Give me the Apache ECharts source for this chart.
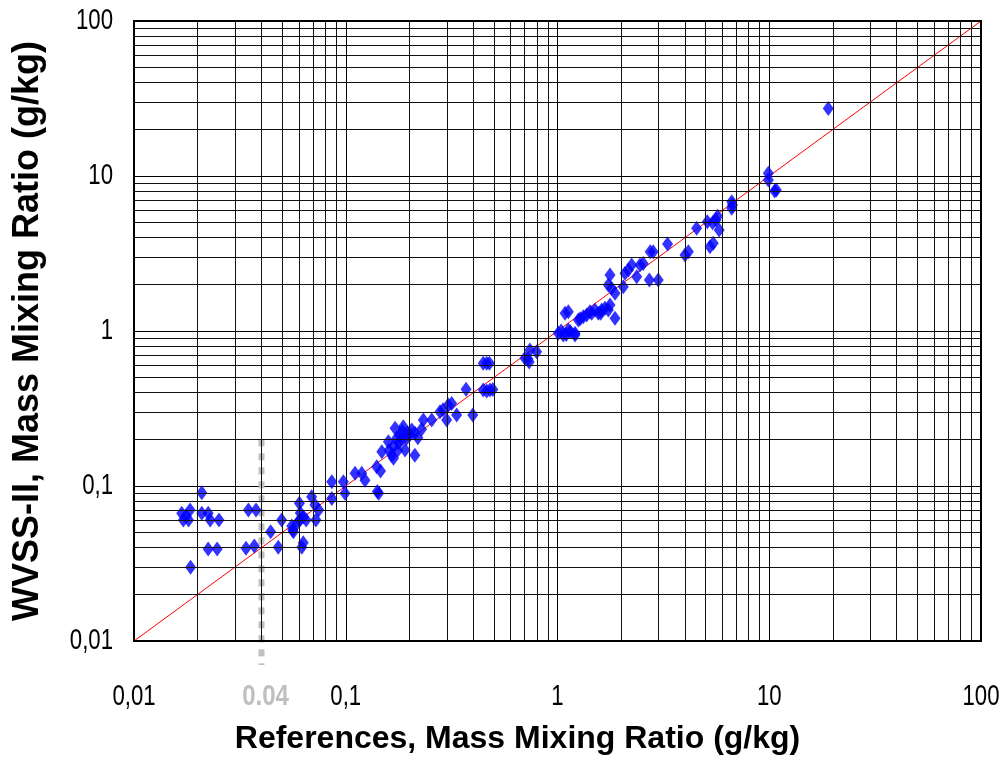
<!DOCTYPE html>
<html>
<head>
<meta charset="utf-8">
<script src="https://cdn.jsdelivr.net/npm/echarts@6/dist/echarts.min.js"></script>
<style>
  html, body { margin: 0; padding: 0; background: #fff; }
  #main { width: 1005px; height: 760px; }
</style>
</head>
<body>
<div id="main"></div>
<script>
// reference (x) and WVSS-II (y) mixing ratios, g/kg
const refValues = [
  0.0168, 0.0184, 0.0171, 0.0181, 0.0176, 0.0209, 0.0209, 0.0224, 0.0229, 0.0252,
  0.0224, 0.0247, 0.0185, 0.0347, 0.0377, 0.0338, 0.037,
  0.0442, 0.048, 0.0498, 0.0556, 0.0566, 0.0562, 0.0604, 0.061, 0.063, 0.0605,
  0.065, 0.059, 0.062, 0.063, 0.069, 0.0716, 0.0745, 0.0723, 0.0859, 0.0859,
  0.0974, 0.0992, 0.1106, 0.119, 0.1233, 0.140, 0.143, 0.146, 0.141,
  0.148, 0.159, 0.165, 0.168, 0.171, 0.174, 0.180, 0.187, 0.1905, 0.194,
  0.168, 0.178, 0.185, 0.195, 0.201, 0.205, 0.212, 0.212, 0.219, 0.228,
  0.160, 0.176, 0.183,
  0.2325, 0.2547, 0.2787, 0.288, 0.305, 0.3165, 0.2996, 0.334, 0.370, 0.398,
  0.446, 0.463, 0.477, 0.446, 0.463, 0.48, 0.495,
  0.702, 0.741, 0.735, 0.797, 0.725,
  1.009, 1.065, 1.125, 1.21, 1.21, 1.085, 1.125, 1.04, 1.15, 1.1,
  1.254, 1.324, 1.374, 1.423, 1.503, 1.559, 1.617, 1.675, 1.738, 1.77, 1.869,
  1.28, 1.45, 1.6,
  1.77, 1.738, 1.80, 1.869, 2.045, 2.084, 2.16, 2.24, 2.366, 2.453, 2.54,
  2.715, 2.99, 2.74, 2.83, 3.31, 4.0, 4.15, 4.54, 5.25, 5.44, 5.1, 5.6, 5.8,
  5.4, 5.7, 6.65, 6.65, 6.7, 9.9, 9.9, 10.8, 10.6, 19.0
]
const wvssValues = [
  0.0667, 0.070, 0.0604, 0.0604, 0.064, 0.0906, 0.0667, 0.0667, 0.0604, 0.0604,
  0.0392, 0.0392, 0.0299, 0.070, 0.070, 0.0396, 0.041,
  0.0507, 0.0402, 0.0604, 0.0552, 0.0507, 0.052, 0.0773, 0.067, 0.063, 0.060,
  0.0604, 0.0575, 0.0402, 0.043, 0.0853, 0.0754, 0.070, 0.0604, 0.1066, 0.0832,
  0.1066, 0.0897, 0.1207, 0.1207, 0.109, 0.133, 0.0897, 0.125, 0.092,
  0.1665, 0.193, 0.158, 0.151, 0.2357, 0.203, 0.2133, 0.2415, 0.1707, 0.203,
  0.180, 0.19, 0.225, 0.22, 0.215, 0.23, 0.158, 0.22, 0.205, 0.232,
  0.17, 0.17, 0.2,
  0.2666, 0.2666, 0.3016, 0.31, 0.333, 0.341, 0.2666, 0.287, 0.421, 0.287,
  0.619, 0.619, 0.619, 0.416, 0.41, 0.416, 0.42,
  0.667, 0.754, 0.63, 0.735, 0.66,
  0.966, 0.942, 1.015, 0.966, 0.942, 1.30, 1.33, 1.0, 0.99, 0.95,
  1.178, 1.237, 1.268, 1.33, 1.366, 1.30, 1.366, 1.40, 1.366, 1.47, 1.207,
  1.2, 1.3, 1.3,
  2.297, 1.98, 1.885, 1.75, 1.93, 2.356, 2.477, 2.667, 2.24, 2.667, 2.73,
  2.133, 2.133, 3.25, 3.25, 3.64, 3.09, 3.25, 4.60, 3.50, 3.68, 5.07, 5.20, 4.48,
  5.0, 5.5, 6.83, 6.19, 6.5, 10.4, 9.42, 8.12, 8.0, 27.3
]
const tickValues = [0.01, 0.1, 1, 10, 100]
const tickLabels = ['0,01', '0,1', '1', '10', '100']
const minorSteps = [2, 3, 4, 5, 6, 7, 8, 9]
const decades = [0.01, 0.1, 1, 10]
const limitX = 0.04

const minorValues = []
decades.forEach(d => minorSteps.forEach(m => minorValues.push(+(d * m).toPrecision(3))))

const font = 'Liberation Sans, Arial, sans-serif'
// no narrow font installed, so squeeze the tick labels
const narrowScale = 0.74

const chart = echarts.init(document.getElementById('main'))
chart.setOption({
    animation: false,
    grid: {
        left: 134,
        right: 24,
        top: 21,
        bottom: 119,
        show: true,
        borderColor: '#000',
        borderWidth: 2,
        z: 10
    },
    xAxis: {
        type: 'log',
        logBase: 10,
        min: 0.01,
        max: 100,
        name: 'References, Mass Mixing Ratio (g/kg)',
        nameLocation: 'middle',
        nameGap: 82,
        nameTextStyle: { fontFamily: font, fontWeight: 'bold', fontSize: 32, color: '#000', padding: [0, 80, 0, 0] },
        axisLine: { show: false },
        axisTick: { show: false },
        axisLabel: { show: false },
        splitLine: { show: true, lineStyle: { color: '#000', width: 1 } }
    },
    yAxis: {
        type: 'log',
        logBase: 10,
        min: 0.01,
        max: 100,
        name: 'WVSS-II, Mass Mixing Ratio (g/kg)',
        nameLocation: 'middle',
        nameGap: 88,
        nameTextStyle: { fontFamily: font, fontWeight: 'bold', fontSize: 36, color: '#000' },
        axisLine: { show: false },
        axisTick: { show: false },
        axisLabel: { show: false },
        splitLine: { show: true, lineStyle: { color: '#000', width: 1 } }
    },
    series: [
        {
            type: 'line',
            data: [],
            silent: true,
            markLine: {
                silent: true,
                symbol: 'none',
                label: { show: false },
                lineStyle: { color: '#111', width: 1, type: 'solid' },
                data: minorValues.map(v => ({ xAxis: v })).concat(minorValues.map(v => ({ yAxis: v })))
            }
        },
        {
            type: 'line',
            data: [[0.01, 0.01], [100, 100]],
            symbol: 'none',
            silent: true,
            lineStyle: { color: '#ff0000', width: 1 }
        },
        {
            type: 'line',
            data: [[limitX, 0.2], [limitX, 0.007]],
            symbol: 'none',
            silent: true,
            clip: false,
            z: 3,
            lineStyle: { color: '#c0c0c0', width: 6, type: [7, 7] }
        },
        {
            type: 'scatter',
            symbol: 'diamond',
            symbolSize: [11, 15],
            itemStyle: { color: '#0000ff' },
            z: 4,
            data: refValues.map((x, i) => [x, wvssValues[i]])
        }
    ]
})

// tick labels placed from the axis scale
const labels = []
tickValues.forEach((v, i) => {
    const px = chart.convertToPixel({ gridIndex: 0 }, [v, 0.01])
    const py = chart.convertToPixel({ gridIndex: 0 }, [0.01, v])
    labels.push({
        type: 'text', x: px[0], y: px[1] + 56, scaleX: narrowScale,
        style: { text: tickLabels[i], fontFamily: font, fontSize: 30, fill: '#000', align: 'center', verticalAlign: 'middle' }
    })
    labels.push({
        type: 'text', x: py[0] - 21, y: py[1], scaleX: narrowScale,
        style: { text: tickLabels[i], fontFamily: font, fontSize: 30, fill: '#000', align: 'right', verticalAlign: 'middle' }
    })
})
const p = chart.convertToPixel({ gridIndex: 0 }, [limitX, 0.01])
labels.push({
    type: 'text', x: p[0] + 4, y: p[1] + 56, scaleX: 0.8,
    style: {
        text: String(limitX), fontFamily: font, fontWeight: 'bold', fontSize: 30,
        fill: '#bfbfbf', align: 'center', verticalAlign: 'middle'
    }
})
chart.setOption({ graphic: labels })
</script>
</body>
</html>
